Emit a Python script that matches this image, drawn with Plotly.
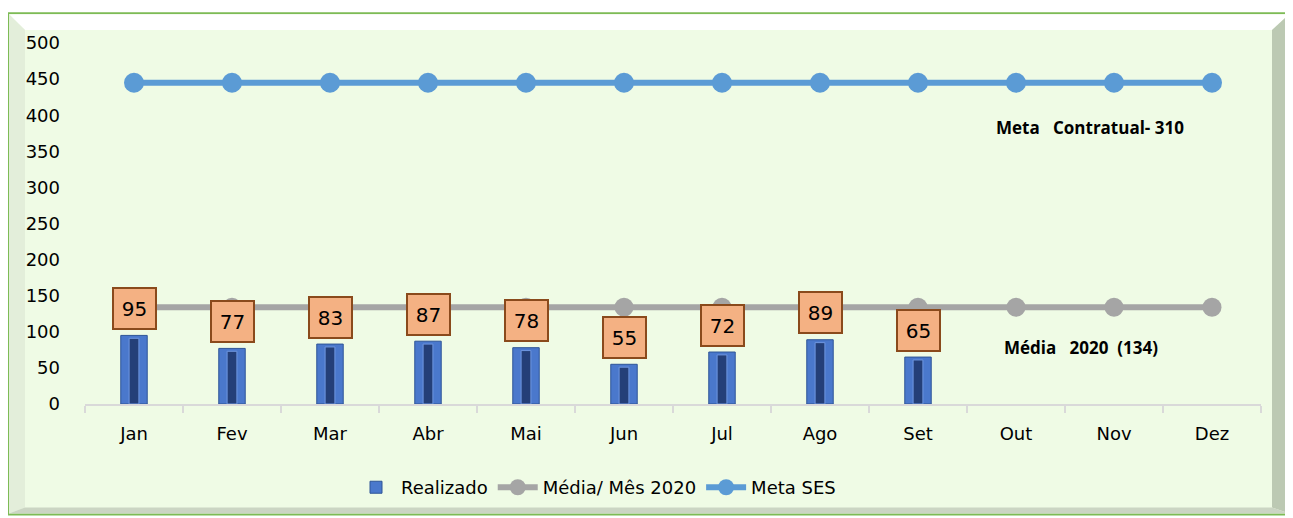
import plotly.graph_objects as go

months = ["Jan", "Fev", "Mar", "Abr", "Mai", "Jun", "Jul", "Ago", "Set", "Out", "Nov", "Dez"]
realizado = [95, 77, 83, 87, 78, 55, 72, 89, 65]
media_2020 = [134] * 12
meta_ses = [445] * 12
y_ticks = [0, 50, 100, 150, 200, 250, 300, 350, 400, 450, 500]

OFF = 8  # page body margin offset
W, H = 1293 - OFF, 518 - OFF
# plot area edges in reference pixel coordinates
L, R, T, B = 85, 1261, 43, 406


def px(x):
    return (x - L) / (R - L)


def py(y):
    return (B - y) / (B - T)


def poly(pts):
    return "M " + " L ".join(f"{px(a)},{py(b)}" for a, b in pts) + " Z"


fig = go.Figure()

rm = months[:len(realizado)]
fig.add_trace(go.Bar(x=rm, y=realizado, name="Realizado", width=0.27,
                     marker=dict(color="#4A78CC", line=dict(color="#2F5597", width=1)),
                     hoverinfo="skip"))
fig.add_trace(go.Bar(x=rm, y=[v - 4 for v in realizado], width=0.1, showlegend=False,
                     marker=dict(color="#243F78", line=dict(color="#6F97E0", width=1)),
                     hoverinfo="skip"))
fig.add_trace(go.Scatter(x=months, y=media_2020, name="Média/ Mês 2020", mode="lines+markers",
                         line=dict(color="#A5A5A5", width=6), marker=dict(size=19, color="#A5A5A5")))
fig.add_trace(go.Scatter(x=months, y=meta_ses, name="Meta SES", mode="lines+markers",
                         line=dict(color="#5B9BD5", width=6), marker=dict(size=20, color="#5B9BD5")))

annotations = []
for m, v in zip(rm, realizado):
    annotations.append(dict(x=m, y=v, xref="x", yref="y", text=str(v), showarrow=False,
                            yshift=27, width=39, height=37, bgcolor="#F4B183",
                            bordercolor="#8A4A1C", borderwidth=2, borderpad=1,
                            font=dict(family="DejaVu Sans", size=20, color="#000000")))

annotations.append(dict(x=px(1090), y=py(128), xref="paper", yref="paper",
                        xanchor="center", yanchor="middle",
                        text="<b>Meta\u00a0\u00a0\u00a0Contratual- 310</b>", showarrow=False,
                        font=dict(family="Open Sans", size=17, color="#000000")))
annotations.append(dict(x=px(1081), y=py(349), xref="paper", yref="paper",
                        xanchor="center", yanchor="middle",
                        text="<b>Média\u00a0\u00a0\u00a02020\u00a0\u00a0(134)</b>", showarrow=False,
                        font=dict(family="Open Sans", size=17, color="#000000")))

shapes = [
    dict(type="rect", xref="paper", yref="paper", x0=px(8), x1=px(1290), y0=py(13), y1=py(517),
         fillcolor="#EFFBE5", line=dict(color="#7DBB55", width=2), layer="below"),
    dict(type="path", xref="paper", yref="paper", path=poly([(9, 14), (1289, 14), (1272, 30), (25, 30)]),
         fillcolor="#FFFFFF", line=dict(width=0), layer="below"),
    dict(type="path", xref="paper", yref="paper", path=poly([(9, 14), (25, 30), (25, 510), (9, 516)]),
         fillcolor="#E3EEDA", line=dict(width=0), layer="below"),
    dict(type="path", xref="paper", yref="paper", path=poly([(1289, 14), (1289, 516), (1272, 510), (1272, 30)]),
         fillcolor="#BCC9B3", line=dict(width=0), layer="below"),
    dict(type="path", xref="paper", yref="paper", path=poly([(9, 516), (1289, 516), (1272, 510), (25, 510)]),
         fillcolor="#CBD5C3", line=dict(width=0), layer="below"),
]

fig.update_layout(
    width=W, height=H,
    margin=dict(l=L - OFF, r=1293 - R, t=T - OFF, b=518 - B),
    paper_bgcolor="#FFFFFF", plot_bgcolor="rgba(0,0,0,0)",
    barmode="overlay",
    showlegend=True,
    legend=dict(orientation="h", x=px(596), y=py(490), xanchor="center", yanchor="middle",
                font=dict(family="DejaVu Sans", size=18, color="#000000"),
                bgcolor="rgba(0,0,0,0)", itemwidth=40, traceorder="normal"),
    font=dict(family="DejaVu Sans", size=18, color="#000000"),
    annotations=annotations, shapes=shapes,
)
fig.update_xaxes(type="category", categoryorder="array", categoryarray=months,
                 range=[-0.5, len(months) - 0.5],
                 showline=True, linecolor="#D9D9D9", linewidth=2, ticks="outside",
                 tickson="boundaries", ticklen=7, tickcolor="#D9D9D9", tickwidth=2,
                 showgrid=False, zeroline=False, ticklabelstandoff=12,
                 tickfont=dict(family="DejaVu Sans", size=18, color="#000000"))
fig.update_yaxes(range=[0, 500], tickvals=y_ticks, showgrid=False, zeroline=False,
                 showline=False, ticks="", ticklabelstandoff=24,
                 tickfont=dict(family="DejaVu Sans", size=18, color="#000000"))

fig.write_html("out.html")
